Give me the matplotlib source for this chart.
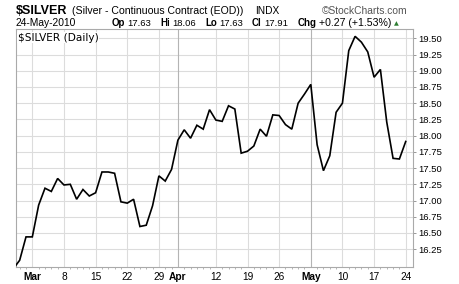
import numpy as np
import matplotlib
matplotlib.use("Agg")
import matplotlib.pyplot as plt

# trading days (Good Friday skipped) and daily closes
dates = ["Feb 24", "Feb 25", "Feb 26",
         "Mar 1", "Mar 2", "Mar 3", "Mar 4", "Mar 5",
         "Mar 8", "Mar 9", "Mar 10", "Mar 11", "Mar 12",
         "Mar 15", "Mar 16", "Mar 17", "Mar 18", "Mar 19",
         "Mar 22", "Mar 23", "Mar 24", "Mar 25", "Mar 26",
         "Mar 29", "Mar 30", "Mar 31", "Apr 1",
         "Apr 5", "Apr 6", "Apr 7", "Apr 8", "Apr 9",
         "Apr 12", "Apr 13", "Apr 14", "Apr 15", "Apr 16",
         "Apr 19", "Apr 20", "Apr 21", "Apr 22", "Apr 23",
         "Apr 26", "Apr 27", "Apr 28", "Apr 29", "Apr 30",
         "May 3", "May 4", "May 5", "May 6", "May 7",
         "May 10", "May 11", "May 12", "May 13", "May 14",
         "May 17", "May 18", "May 19", "May 20", "May 21",
         "May 24"]
closes = [15.95, 16.08, 16.44,
          16.44, 16.93, 17.19, 17.14, 17.34,
          17.24, 17.25, 17.02, 17.17, 17.07,
          17.12, 17.44, 17.44, 17.42, 16.98,
          16.96, 17.02, 16.60, 16.62, 16.92,
          17.38, 17.30, 17.48, 17.93,
          18.09, 17.96, 18.16, 18.10, 18.40,
          18.24, 18.22, 18.46, 18.41, 17.73,
          17.76, 17.84, 18.10, 17.99, 18.32,
          18.31, 18.17, 18.10, 18.50, 18.64,
          18.79, 17.86, 17.46, 17.69, 18.36,
          18.50, 19.31, 19.53, 19.44, 19.29,
          18.90, 19.02, 18.21, 17.65, 17.64,
          17.91]

tick_dates = ["Mar 1", "Mar 8", "Mar 15", "Mar 22", "Mar 29", "Apr 1", "Apr 12",
              "Apr 19", "Apr 26", "May 3", "May 10", "May 17", "May 24"]
tick_labels = ["Mar", "8", "15", "22", "29", "Apr", "12", "19", "26", "May", "10", "17", "24"]
month_dates = ["Mar 1", "Apr 1", "May 3"]
y_ticks = np.arange(16.25, 19.51, 0.25)

# header quote line
quote_labels = ["Op", "Hi", "Lo", "Cl", "Chg"]
quote_values = ["17.63", "18.06", "17.63", "17.91", "+0.27 (+1.53%)"]

W, H = 460, 284
plt.rcParams["font.family"] = ["Liberation Sans", "DejaVu Sans"]

fig = plt.figure(figsize=(W / 100, H / 100), dpi=100)
ax = fig.add_axes([16 / W, 17 / H, 397 / W, 238 / H])

x0 = dates.index("Mar 1")
xs = np.arange(len(dates)) - x0
ax.plot(xs, closes, color="black", lw=1.2, solid_joinstyle="miter", zorder=3)

ax.set_xlim(-2.58, 60.15)
ax.set_ylim(15.976, 19.643)

# grid
for v in y_ticks:
    ax.axhline(v, color="#dcdcdc", lw=0.8, zorder=1)
tick_pos = [dates.index(d) - x0 for d in tick_dates]
for d, p in zip(tick_dates, tick_pos):
    c = "#b4b4b4" if d in month_dates[1:] else "#dcdcdc"
    ax.axvline(p, color=c, lw=0.8, zorder=1)

ax.set_xticks(tick_pos)
ax.set_xticklabels(tick_labels, fontsize=7.3)
for lbl, t in zip(ax.get_xticklabels(), tick_labels):
    if t in ("Mar", "Apr", "May"):
        lbl.set_fontweight("bold")
ax.set_xticks(xs[xs >= -2], minor=True)
ax.tick_params(axis="x", which="major", length=0, pad=3.5)
ax.tick_params(axis="x", which="minor", length=1.5, color="#aaaaaa", width=0.6)

ax.yaxis.tick_right()
ax.set_yticks(y_ticks)
ax.set_yticklabels(["%.2f" % v for v in y_ticks], fontsize=6.8)
ax.tick_params(axis="y", length=2.5, width=0.6, color="#888888", pad=1.5)

for s in ax.spines.values():
    s.set_color("#aaaaaa")
    s.set_linewidth(0.8)

ax.text(0.005, 0.985, "$SILVER (Daily)", transform=ax.transAxes, fontsize=7.6,
        family="DejaVu Sans", va="top", ha="left", zorder=5,
        bbox=dict(facecolor="white", edgecolor="none", pad=0.5))


def put(x, y, s, **kw):
    return fig.text(x / W, 1 - y / H, s, va="baseline", ha="left", **kw)


# header lines
put(16, 14, "$SILVER", fontsize=9, fontweight="bold")
put(72.5, 14, "(Silver - Continuous Contract (EOD))", fontsize=7.6)
put(255, 14, "INDX", fontsize=7.3)
put(322, 14, "\u00a9StockCharts.com", fontsize=7.4, color="#555555")
put(16, 26, "24-May-2010", fontsize=7.4)

renderer = fig.canvas.get_renderer()
x = 111.5
for lab, val in zip(quote_labels, quote_values):
    t = put(x, 26, lab, fontsize=7.0, fontweight="bold")
    x += t.get_window_extent(renderer).width + 2.5
    t2 = put(x, 26, val, fontsize=6.8 if lab != "Chg" else 7.6)
    x += t2.get_window_extent(renderer).width + 9
put(x - 6, 25.5, "\u25b2", fontsize=4.5, color="#2e7d32", family="DejaVu Sans")

fig.savefig("out.png", dpi=100)
